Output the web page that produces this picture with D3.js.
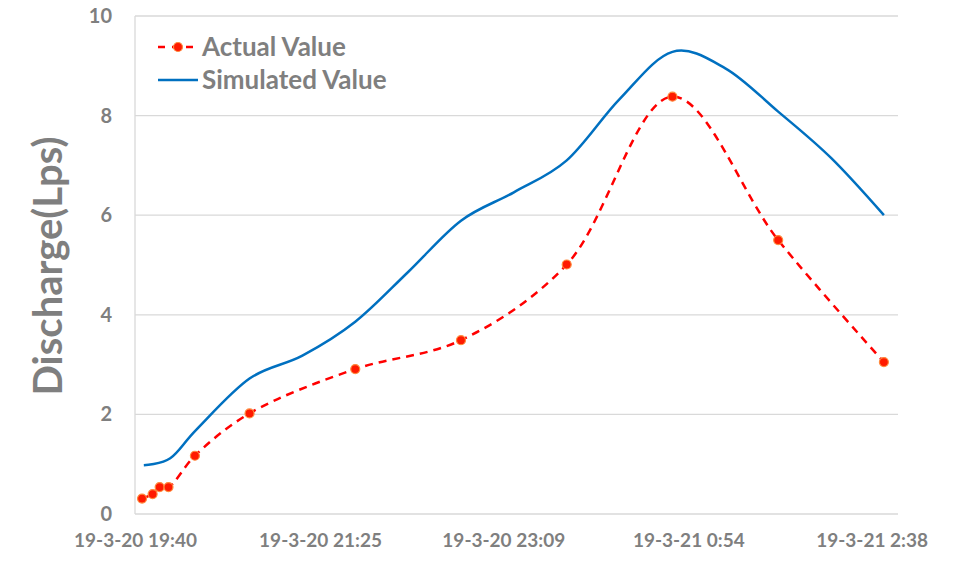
<!DOCTYPE html>
<html>
<head>
<meta charset="utf-8">
<script src="https://cdn.jsdelivr.net/npm/d3@7"></script>
<style>
  html, body { margin: 0; padding: 0; background: #fff; }
  svg { display: block; }
  text { font-family: Lato, "Open Sans", sans-serif; font-weight: 700; fill: #7f7f7f; }
</style>
</head>
<body>
<svg id="chart" width="955" height="565"></svg>
<script>
// ---- data ----
const actualTimes = ["2019-03-20 19:44","2019-03-20 19:50","2019-03-20 19:54","2019-03-20 19:59","2019-03-20 20:14","2019-03-20 20:45","2019-03-20 21:45","2019-03-20 22:45","2019-03-20 23:45","2019-03-21 00:45","2019-03-21 01:45","2019-03-21 02:45"];
const actualValues = [0.31, 0.40, 0.54, 0.54, 1.17, 2.02, 2.91, 3.49, 5.01, 8.38, 5.50, 3.05];

const simTimes = ["2019-03-20 19:45","2019-03-20 20:00","2019-03-20 20:15","2019-03-20 20:45","2019-03-20 21:15","2019-03-20 21:45","2019-03-20 22:15","2019-03-20 22:45","2019-03-20 23:15","2019-03-20 23:45","2019-03-21 00:15","2019-03-21 00:45","2019-03-21 01:15","2019-03-21 01:45","2019-03-21 02:15","2019-03-21 02:45"];
const simValues = [0.98, 1.12, 1.70, 2.72, 3.18, 3.86, 4.86, 5.89, 6.46, 7.10, 8.33, 9.28, 8.95, 8.08, 7.15, 6.00];

const xTickTimes = ["2019-03-20 19:40","2019-03-20 21:25","2019-03-20 23:09","2019-03-21 00:54","2019-03-21 02:38"];
const yTicks = [0, 2, 4, 6, 8, 10];
const seriesNames = ["Actual Value", "Simulated Value"];
const yTitle = "Discharge(Lps)";

// ---- setup ----
const parse = d3.timeParse("%Y-%m-%d %H:%M");
const svg = d3.select("#chart");
const pLeft = 135, pRight = 898, pTop = 16, pBottom = 514;

const x = d3.scaleTime()
  .domain([parse("2019-03-20 19:40"), parse("2019-03-21 02:53")])
  .range([pLeft, pRight]);
const y = d3.scaleLinear().domain([0, 10]).range([pBottom, pTop]);

// gridlines
svg.append("g")
  .selectAll("line").data(yTicks).join("line")
  .attr("x1", pLeft).attr("x2", pRight)
  .attr("y1", d => y(d)).attr("y2", d => y(d))
  .attr("stroke", "#d9d9d9").attr("stroke-width", 1.3);

// left axis line
svg.append("line").attr("x1", pLeft).attr("x2", pLeft).attr("y1", pTop).attr("y2", pBottom)
  .attr("stroke", "#d9d9d9").attr("stroke-width", 1.3);

// y axis labels
const yAxis = d3.axisLeft(y).tickValues(yTicks).tickSize(0).tickPadding(23).tickFormat(d3.format("d"));
const gy = svg.append("g").attr("transform", `translate(${pLeft},0)`).call(yAxis);
gy.select(".domain").remove();
gy.selectAll("text").style("font-size", "20px").attr("fill", "#7f7f7f").style("font-family", "Lato, sans-serif").style("font-weight", 700);

// x axis labels
const fmt = d3.timeFormat("%y-%-m-%-d %-H:%M");
const xAxis = d3.axisBottom(x).tickValues(xTickTimes.map(parse)).tickSize(0).tickPadding(20).tickFormat(fmt);
const gx = svg.append("g").attr("transform", `translate(0,${pBottom})`).call(xAxis);
gx.select(".domain").remove();
gx.selectAll("text").style("font-size", "19px").attr("fill", "#7f7f7f").style("font-family", "Lato, sans-serif").style("font-weight", 700);

// y title
svg.append("text")
  .attr("transform", "translate(62,266) rotate(-90)")
  .attr("text-anchor", "middle")
  .style("font-size", "40px")
  .text(yTitle);

// lines
const simLine = d3.line().x(d => x(d.t)).y(d => y(d.v)).curve(d3.curveCatmullRom.alpha(0));
const actLine = d3.line().x(d => x(d.t)).y(d => y(d.v)).curve(d3.curveCatmullRom.alpha(0.5));
const simData = simTimes.map((t, i) => ({t: parse(t), v: simValues[i]}));
const actData = actualTimes.map((t, i) => ({t: parse(t), v: actualValues[i]}));

svg.append("path").datum(simData).attr("d", simLine)
  .attr("fill", "none").attr("stroke", "#0070c0").attr("stroke-width", 2.5);

svg.append("path").datum(actData).attr("d", actLine)
  .attr("fill", "none").attr("stroke", "#ff0000").attr("stroke-width", 2.5)
  .attr("stroke-dasharray", "8,6");

svg.append("g").selectAll("circle").data(actData).join("circle")
  .attr("cx", d => x(d.t)).attr("cy", d => y(d.v)).attr("r", 4.5)
  .attr("fill", "#ff1a00").attr("stroke", "#ff8a3d").attr("stroke-width", 1.2);

// legend
const lg = svg.append("g");
lg.append("line").attr("x1", 158).attr("x2", 198).attr("y1", 47).attr("y2", 47)
  .attr("stroke", "#ff0000").attr("stroke-width", 2.5).attr("stroke-dasharray", "7,7");
lg.append("circle").attr("cx", 178).attr("cy", 47).attr("r", 4.5)
  .attr("fill", "#ff1a00").attr("stroke", "#ff8a3d").attr("stroke-width", 1.2);
lg.append("line").attr("x1", 158).attr("x2", 198).attr("y1", 80).attr("y2", 80)
  .attr("stroke", "#0070c0").attr("stroke-width", 2.5);
lg.append("text").attr("x", 202).attr("y", 56).style("font-size", "26px").text(seriesNames[0]);
lg.append("text").attr("x", 202).attr("y", 89).style("font-size", "26px").text(seriesNames[1]);
</script>
</body>
</html>
